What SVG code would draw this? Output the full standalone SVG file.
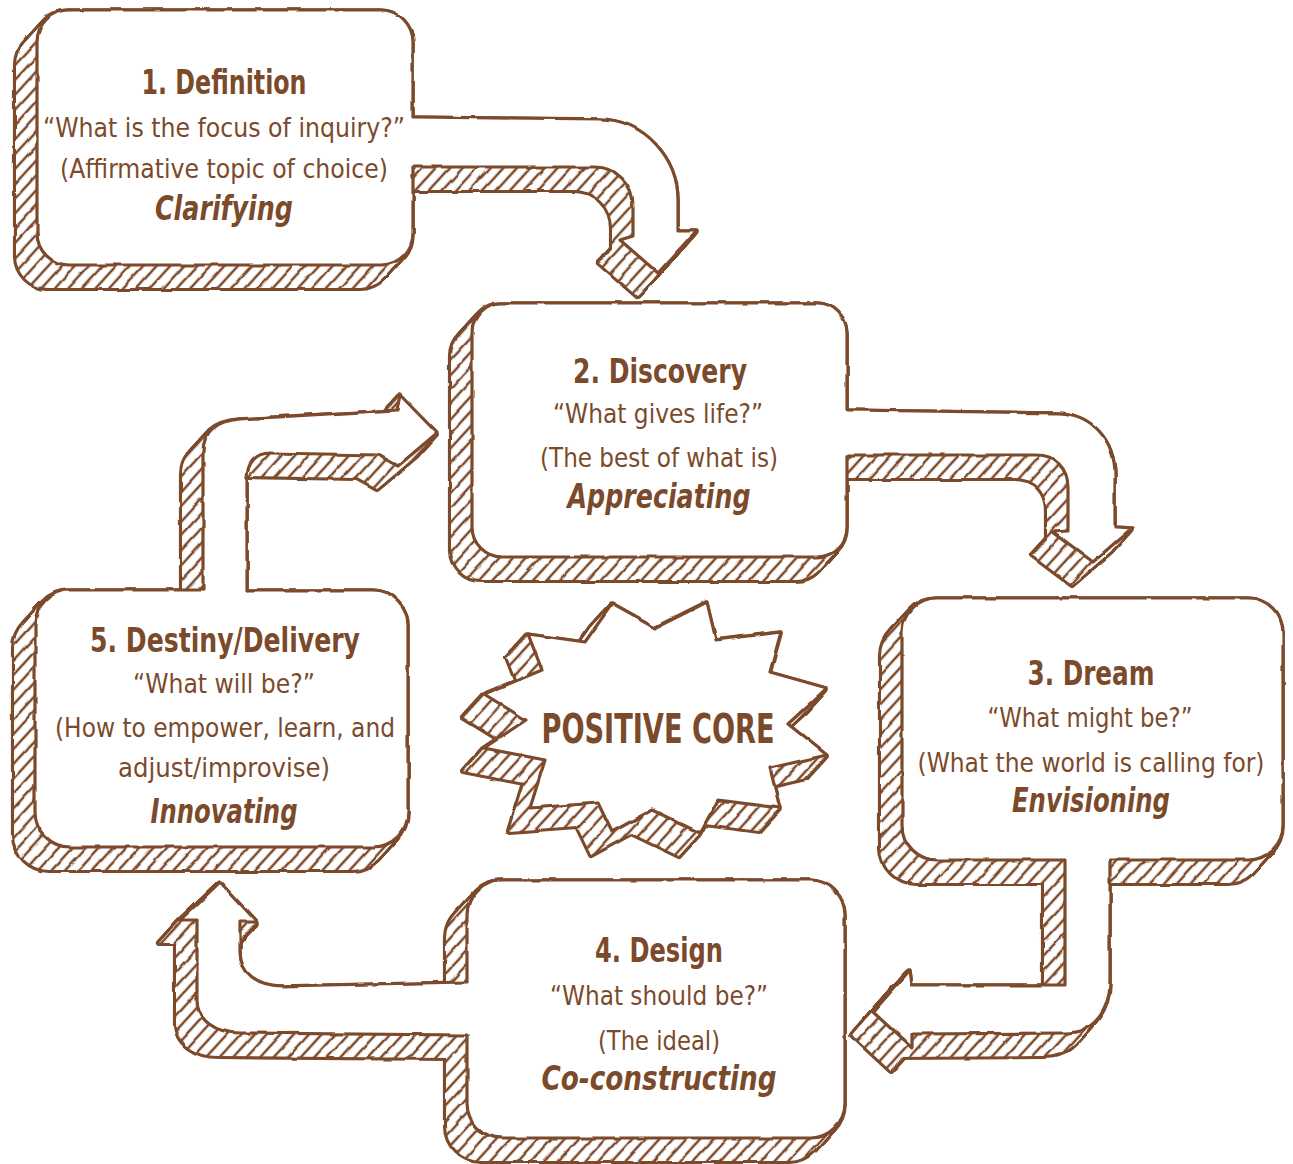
<svg xmlns="http://www.w3.org/2000/svg" width="1293" height="1164" viewBox="0 0 1293 1164">
<style>
.face{fill:#fff;stroke:#7b4a2b;stroke-width:3.2;stroke-linejoin:round}
.fill{fill:#fff;stroke:none}
.edge{fill:none;stroke:#7b4a2b;stroke-width:3.2;stroke-linejoin:round;stroke-linecap:round}
.extA{fill:url(#hatch);stroke:#7b4a2b;stroke-width:6.2;stroke-linejoin:round}
.extB{fill:url(#hatch);stroke:none}
text{fill:#7b4a2b;font-family:"Liberation Sans Narrow","DejaVu Sans Condensed","Roboto","Noto Sans",sans-serif;text-anchor:middle}
.t{font-size:33px;font-weight:700}
.q{font-size:27px}
.v{font-size:33px;font-weight:700;font-style:italic}
.core{font-size:40px;font-weight:700}
</style>
<defs>
  <!-- diagonal hatching, lines run parallel to the extrusion direction -->
  <pattern id="hatch" patternUnits="userSpaceOnUse" width="12" height="10" patternTransform="rotate(-47.6)">
    <rect width="12" height="10" fill="#fff"/>
    <line x1="-1" y1="5" x2="13" y2="5" stroke="#7b4a2b" stroke-width="2.5"/>
  </pattern>
  <filter id="rough" x="-5%" y="-5%" width="110%" height="110%">
    <feTurbulence type="fractalNoise" baseFrequency="0.045" numOctaves="2" seed="7" result="n"/>
    <feDisplacementMap in="SourceGraphic" in2="n" scale="3.2" xChannelSelector="R" yChannelSelector="G"/>
  </filter>
  <!-- outlines of every solid: boxes, block arrows and the burst -->
  <g id="solids">
    <rect id="s-box1" x="37" y="10" width="376" height="255" rx="32"/>
    <rect id="s-box2" x="472" y="303" width="375" height="254" rx="30"/>
    <rect id="s-box3" x="902" y="598" width="381" height="262" rx="35"/>
    <rect id="s-box4" x="467" y="880" width="378" height="258" rx="35"/>
    <rect id="s-box5" x="35" y="590" width="373" height="257" rx="35"/>
    <path id="s-a12" d="M409,117 L600,119 C645,120 678,158 678,200 L678,230 L697,230 L658,273 L620,240 L633,236 L633,205 C633,184 616,167 595,167 L409,167 Z"/>
    <path id="s-a23" d="M843,410 L1058,413 C1092,414 1115,440 1115,475 L1115,527 L1132,528 L1093,562 L1053,532 L1068,531 L1068,488 C1068,468 1055,455 1035,455 L843,455 Z"/>
    <path id="s-a34" d="M1110,856 L1110,980 C1110,1012 1093,1033 1065,1033 L912,1034 L912,1048 L873,1012 L910,970 L912,985 L1065,985 L1065,856 Z"/>
    <path id="s-a45" d="M471,982 L283,986 C256,986 240,972 240,952 L240,922 L257,922 L220,882 L180,920 L197,920 L197,1000 C197,1020 215,1033 240,1033 L471,1035 Z"/>
    <path id="s-a52" d="M203,594 L203,452 C203,431 216,421 240,419 L397,410 L400,395 L437,433 L398,466 L378,455 L270,453 C256,453 247,463 247,478 L247,594 Z"/>
    <polygon id="s-core" points="612,604 655,628 707,602 716,640 781,632 770,672 827,688 788,724 827,755 770,768 780,808 718,800 700,833 652,810 612,832 598,803 530,808 545,760 484,748 526,720 484,694 542,670 528,634 585,642"/>
  </g>
</defs>

<!-- hatched depth faces: the solids swept down-left -->
<g id="shading" filter="url(#rough)">
  <use href="#solids" class="extA" transform="translate(-21,23)"/>
  <use href="#solids" class="extA" transform="translate(-19.69,21.56)"/>
  <use href="#solids" class="extA" transform="translate(-18.38,20.13)"/>
  <use href="#solids" class="extA" transform="translate(-17.06,18.69)"/>
  <use href="#solids" class="extA" transform="translate(-15.75,17.25)"/>
  <use href="#solids" class="extA" transform="translate(-14.44,15.81)"/>
  <use href="#solids" class="extA" transform="translate(-13.13,14.38)"/>
  <use href="#solids" class="extA" transform="translate(-11.81,12.94)"/>
  <use href="#solids" class="extA" transform="translate(-10.5,11.5)"/>
  <use href="#solids" class="extA" transform="translate(-9.19,10.06)"/>
  <use href="#solids" class="extA" transform="translate(-7.88,8.63)"/>
  <use href="#solids" class="extA" transform="translate(-6.56,7.19)"/>
  <use href="#solids" class="extA" transform="translate(-5.25,5.75)"/>
  <use href="#solids" class="extA" transform="translate(-3.94,4.31)"/>
  <use href="#solids" class="extA" transform="translate(-2.63,2.88)"/>
  <use href="#solids" class="extA" transform="translate(-1.31,1.44)"/>
  <use href="#solids" class="extB" transform="translate(-21,23)"/>
  <use href="#solids" class="extB" transform="translate(-19.69,21.56)"/>
  <use href="#solids" class="extB" transform="translate(-18.38,20.13)"/>
  <use href="#solids" class="extB" transform="translate(-17.06,18.69)"/>
  <use href="#solids" class="extB" transform="translate(-15.75,17.25)"/>
  <use href="#solids" class="extB" transform="translate(-14.44,15.81)"/>
  <use href="#solids" class="extB" transform="translate(-13.13,14.38)"/>
  <use href="#solids" class="extB" transform="translate(-11.81,12.94)"/>
  <use href="#solids" class="extB" transform="translate(-10.5,11.5)"/>
  <use href="#solids" class="extB" transform="translate(-9.19,10.06)"/>
  <use href="#solids" class="extB" transform="translate(-7.88,8.63)"/>
  <use href="#solids" class="extB" transform="translate(-6.56,7.19)"/>
  <use href="#solids" class="extB" transform="translate(-5.25,5.75)"/>
  <use href="#solids" class="extB" transform="translate(-3.94,4.31)"/>
  <use href="#solids" class="extB" transform="translate(-2.63,2.88)"/>
  <use href="#solids" class="extB" transform="translate(-1.31,1.44)"/>
</g>

<g id="node-definition">
  <use href="#s-box1" class="face" filter="url(#rough)"/>
  <text class="t" x="224" y="94" textLength="165" lengthAdjust="spacingAndGlyphs">1. Definition</text>
  <text class="q" x="224" y="137" textLength="362" lengthAdjust="spacingAndGlyphs">“What is the focus of inquiry?”</text>
  <text class="q" x="224" y="178" textLength="328" lengthAdjust="spacingAndGlyphs">(Affirmative topic of choice)</text>
  <text class="v" x="224" y="220" textLength="138" lengthAdjust="spacingAndGlyphs">Clarifying</text>
</g>

<g id="node-discovery">
  <use href="#s-box2" class="face" filter="url(#rough)"/>
  <text class="t" x="660" y="383" textLength="174" lengthAdjust="spacingAndGlyphs">2. Discovery</text>
  <text class="q" x="658" y="423" textLength="210" lengthAdjust="spacingAndGlyphs">“What gives life?”</text>
  <text class="q" x="659" y="467" textLength="238" lengthAdjust="spacingAndGlyphs">(The best of what is)</text>
  <text class="v" x="659" y="508" textLength="183" lengthAdjust="spacingAndGlyphs">Appreciating</text>
</g>

<g id="node-dream">
  <use href="#s-box3" class="face" filter="url(#rough)"/>
  <text class="t" x="1091" y="685" textLength="127" lengthAdjust="spacingAndGlyphs">3. Dream</text>
  <text class="q" x="1090" y="727" textLength="205" lengthAdjust="spacingAndGlyphs">“What might be?”</text>
  <text class="q" x="1091" y="772" textLength="347" lengthAdjust="spacingAndGlyphs">(What the world is calling for)</text>
  <text class="v" x="1091" y="812" textLength="158" lengthAdjust="spacingAndGlyphs">Envisioning</text>
</g>

<g id="node-design">
  <use href="#s-box4" class="face" filter="url(#rough)"/>
  <text class="t" x="659" y="962" textLength="128" lengthAdjust="spacingAndGlyphs">4. Design</text>
  <text class="q" x="659" y="1005" textLength="218" lengthAdjust="spacingAndGlyphs">“What should be?”</text>
  <text class="q" x="659" y="1050" textLength="122" lengthAdjust="spacingAndGlyphs">(The ideal)</text>
  <text class="v" x="659" y="1090" textLength="235" lengthAdjust="spacingAndGlyphs">Co-constructing</text>
</g>

<g id="node-destiny">
  <use href="#s-box5" class="face" filter="url(#rough)"/>
  <text class="t" x="225" y="652" textLength="270" lengthAdjust="spacingAndGlyphs">5. Destiny/Delivery</text>
  <text class="q" x="224" y="693" textLength="182" lengthAdjust="spacingAndGlyphs">“What will be?”</text>
  <text class="q" x="225" y="737" textLength="340" lengthAdjust="spacingAndGlyphs">(How to empower, learn, and</text>
  <text class="q" x="224" y="777" textLength="212" lengthAdjust="spacingAndGlyphs">adjust/improvise)</text>
  <text class="v" x="224" y="823" textLength="147" lengthAdjust="spacingAndGlyphs">Innovating</text>
</g>

<g id="node-core">
  <use href="#s-core" class="face" filter="url(#rough)"/>
  <text class="core" x="658" y="743" textLength="233" lengthAdjust="spacingAndGlyphs">POSITIVE CORE</text>
</g>

<!-- block arrows: white body, then the outline left open where it meets its box -->
<g id="connectors">
  <g id="arrow-definition-discovery" filter="url(#rough)">
    <use href="#s-a12" class="fill"/>
    <path class="edge" d="M413,117 L600,119 C645,120 678,158 678,200 L678,230 L697,230 L658,273 L620,240 L633,236 L633,205 C633,184 616,167 595,167 L413,167"/>
  </g>
  <g id="arrow-discovery-dream" filter="url(#rough)">
    <use href="#s-a23" class="fill"/>
    <path class="edge" d="M847,410 L1058,413 C1092,414 1115,440 1115,475 L1115,527 L1132,528 L1093,562 L1053,532 L1068,531 L1068,488 C1068,468 1055,455 1035,455 L847,455"/>
  </g>
  <g id="arrow-dream-design" filter="url(#rough)">
    <use href="#s-a34" class="fill"/>
    <path class="edge" d="M1110,860 L1110,980 C1110,1012 1093,1033 1065,1033 L912,1034 L912,1048 L873,1012 L910,970 L912,985 L1065,985 L1065,860"/>
  </g>
  <g id="arrow-design-destiny" filter="url(#rough)">
    <use href="#s-a45" class="fill"/>
    <path class="edge" d="M467,982 L283,986 C256,986 240,972 240,952 L240,922 L257,922 L220,882 L180,920 L197,920 L197,1000 C197,1020 215,1033 240,1033 L467,1035"/>
  </g>
  <g id="arrow-destiny-discovery" filter="url(#rough)">
    <use href="#s-a52" class="fill"/>
    <path class="edge" d="M203,590 L203,452 C203,431 216,421 240,419 L397,410 L400,395 L437,433 L398,466 L378,455 L270,453 C256,453 247,463 247,478 L247,590"/>
  </g>
</g>
</svg>
